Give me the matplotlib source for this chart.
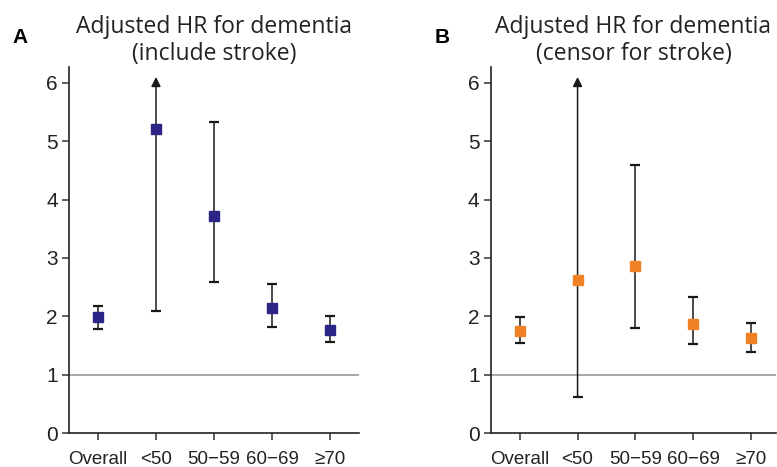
import matplotlib
matplotlib.use("Agg")
import matplotlib.pyplot as plt
import numpy as np

groups = ["Overall", "<50", "50\u221259", "60\u221269", "\u226570"]

# panel A: include stroke
hr_a = [1.98, 5.21, 3.72, 2.15, 1.77]
lo_a = [1.78, 2.09, 2.59, 1.82, 1.56]
hi_a = [2.17, None, 5.33, 2.56, 2.00]

# panel B: censor for stroke
hr_b = [1.75, 2.62, 2.86, 1.87, 1.62]
lo_b = [1.54, 0.62, 1.80, 1.53, 1.39]
hi_b = [1.98, None, 4.59, 2.33, 1.89]

arrow_top = 6.1

plt.rcParams['font.family'] = ['Liberation Sans', 'DejaVu Sans']


def draw_panel(ax, hr, lo, hi, color, title, xmax):
    x = np.arange(len(groups))
    ax.axhline(1, color="#9a9a9a", lw=1.2, zorder=1)
    for i in range(len(groups)):
        if hi[i] is None:
            ax.annotate("", xy=(x[i], arrow_top), xytext=(x[i], lo[i]),
                        arrowprops=dict(arrowstyle="-|>", color="#1a1a1a",
                                        lw=1.1, mutation_scale=14,
                                        shrinkA=0, shrinkB=0), zorder=2)
            ax.plot(x[i], lo[i], marker="_", ms=7, mew=1.6, color="#1a1a1a", zorder=2)
        else:
            ax.errorbar(x[i], hr[i], yerr=[[hr[i] - lo[i]], [hi[i] - hr[i]]],
                        fmt="none", ecolor="#1a1a1a", elinewidth=1.1,
                        capsize=3.4, capthick=1.6, zorder=2)
    ax.plot(x, hr, "s", ms=7.5, color=color, zorder=3, linestyle="none")

    ax.set_xlim(-0.5, xmax)
    ax.set_ylim(0, 6.27)
    ax.set_yticks(range(7))
    ax.set_xticks(x)
    ax.set_xticklabels(groups, fontsize=13.5)
    ax.tick_params(axis="y", labelsize=15, length=5, width=1.1, color="#333333",
                   labelcolor="#222222", pad=3)
    ax.tick_params(axis="x", length=5, width=1.1, color="#333333",
                   labelcolor="#222222", pad=8)
    for s in ("top", "right"):
        ax.spines[s].set_visible(False)
    for s in ("left", "bottom"):
        ax.spines[s].set_linewidth(1.2)
        ax.spines[s].set_color("#222222")
    ax.set_title(title, fontsize=16.5, family="Open Sans", color="#222222",
                 pad=5, linespacing=1.18)


fig = plt.figure(figsize=(7.77, 4.67), dpi=100)
ax_a = fig.add_axes([0.0888, 0.0728, 0.3732, 0.7837])
ax_b = fig.add_axes([0.6315, 0.0728, 0.3675, 0.7837])

draw_panel(ax_a, hr_a, lo_a, hi_a, "#2d2585",
           "Adjusted HR for dementia\n(include stroke)", 4.5)
draw_panel(ax_b, hr_b, lo_b, hi_b, "#f08124",
           "Adjusted HR for dementia\n(censor for stroke)", 4.43)

fig.text(0.026, 0.92, "A", fontsize=15, fontweight="bold", va="center", ha="center")
fig.text(0.569, 0.92, "B", fontsize=15, fontweight="bold", va="center", ha="center")

fig.savefig("out.png", dpi=100)
